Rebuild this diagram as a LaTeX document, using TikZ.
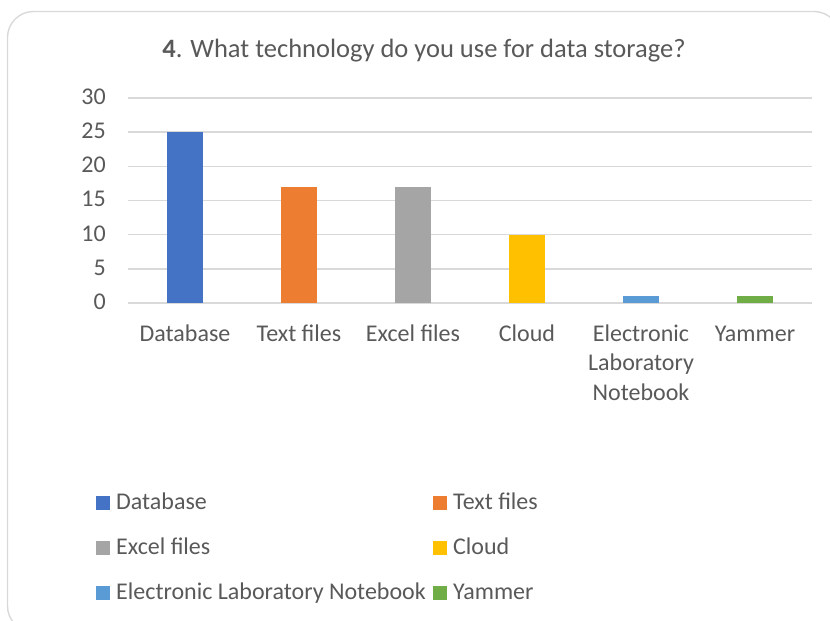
\documentclass[tikz,border=0pt]{standalone}
\usepackage{fontspec}
\setmainfont{Carlito}
\definecolor{txtgray}{HTML}{595959}
\definecolor{gridgray}{HTML}{D9D9D9}
\definecolor{cDatabase}{HTML}{4472C4}
\definecolor{cText}{HTML}{ED7D31}
\definecolor{cExcel}{HTML}{A5A5A5}
\definecolor{cCloud}{HTML}{FFC000}
\definecolor{cELN}{HTML}{5B9BD5}
\definecolor{cYammer}{HTML}{70AD47}
\begin{document}
\begin{tikzpicture}[x=1pt,y=-1pt,
  lbl/.style={text=txtgray,font=\fontsize{24}{29.5}\selectfont,inner sep=0pt},
  ylbl/.style={lbl,anchor=base east},
  xlbl/.style={lbl,anchor=base,align=center},
  leglbl/.style={lbl,anchor=base west},
  grid/.style={draw=gridgray,line width=1.4pt},
  swatch/.style={minimum size=14pt,inner sep=0pt,anchor=center}]
  \useasboundingbox (0,0) rectangle (830,621);
  % chart frame
  \draw[draw=gridgray,line width=1.4pt,rounded corners=26pt] (7.5,11.5) rectangle (840,632);
  % title
  \node[lbl,anchor=base,font=\fontsize{26.5}{32}\selectfont] (title) at (424,57) {\textbf{4}. What technology do you use for data storage?};
  % value axis: gridlines and labels (0..30, step 5)
  \foreach \v [count=\i from 0] in {0,5,10,15,20,25,30}{
    \pgfmathsetmacro{\yy}{303-34.2*\i}
    \draw[grid] (128,\yy) -- (812,\yy);
    \node[ylbl] (y\i) at (106,\yy+6.5) {\v};
  }
  % bars
  \foreach \cx/\val/\col in {185/25/cDatabase,299/17/cText,413/17/cExcel,527/10/cCloud,641/1/cELN,755/1/cYammer}{
    \fill[\col] (\cx-18,303) rectangle (\cx+18,303-6.84*\val);
  }
  % category labels (base anchor of a multi-line label sits on its last line)
  \node[xlbl] (xDatabase) at (185,341) {Database};
  \node[xlbl] (xText) at (299,341) {Text files};
  \node[xlbl] (xExcel) at (413,341) {Excel files};
  \node[xlbl] (xCloud) at (527,341) {Cloud};
  \node[xlbl] (xELN) at (641,400) {Electronic\\Laboratory\\Notebook};
  \node[xlbl] (xYammer) at (755,341) {Yammer};
  % legend
  \node[swatch,fill=cDatabase] (sDatabase) at (103,503) {};
  \node[leglbl] (lDatabase) at (116,509.5) {Database};
  \node[swatch,fill=cText] (sText) at (440,503) {};
  \node[leglbl] (lText) at (453,509.5) {Text files};
  \node[swatch,fill=cExcel] (sExcel) at (103,548) {};
  \node[leglbl] (lExcel) at (116,554.5) {Excel files};
  \node[swatch,fill=cCloud] (sCloud) at (440,548) {};
  \node[leglbl] (lCloud) at (453,554.5) {Cloud};
  \node[swatch,fill=cELN] (sELN) at (103,593) {};
  \node[leglbl] (lELN) at (116,599.5) {Electronic Laboratory Notebook};
  \node[swatch,fill=cYammer] (sYammer) at (440,593) {};
  \node[leglbl] (lYammer) at (453,599.5) {Yammer};
\end{tikzpicture}
\end{document}
